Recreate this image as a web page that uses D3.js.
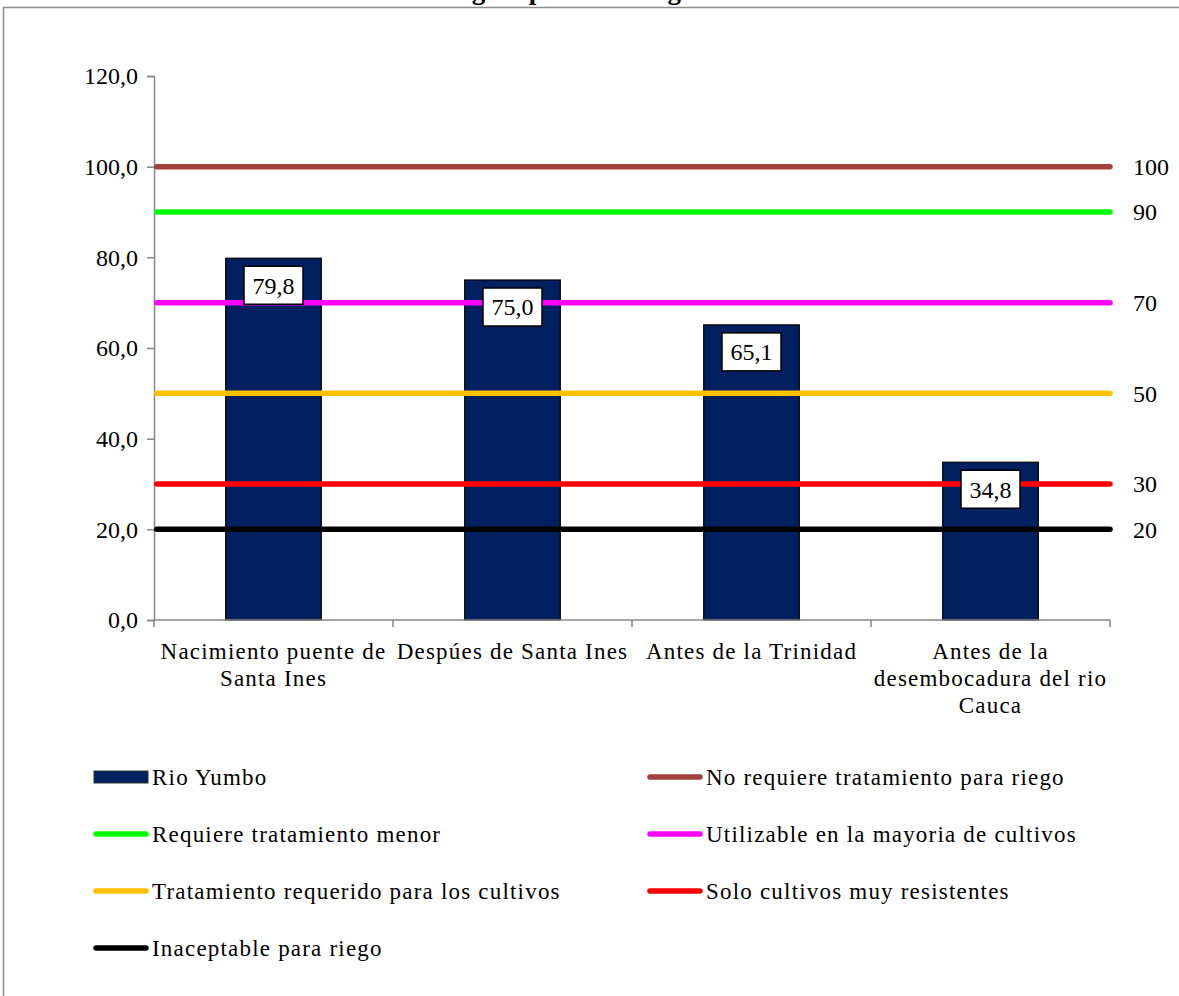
<!DOCTYPE html>
<html>
<head>
<meta charset="utf-8">
<script src="https://cdn.jsdelivr.net/npm/d3@7"></script>
<style>
  html, body { margin: 0; padding: 0; background: #fff; }
  svg { display: block; font-family: "Liberation Serif", "Times New Roman", serif; }
  text { font-family: "Liberation Serif", "Times New Roman", serif; fill: #000; }
</style>
</head>
<body>
<svg id="chart" width="1179" height="996"></svg>
<script>
// ---------- data ----------
const titleLines = ["Índice de calidad del", "agua para el riego"];
const categories = [
  "Nacimiento puente de\nSanta Ines",
  "Despúes de Santa Ines",
  "Antes de la Trinidad",
  "Antes de la\ndesembocadura del rio\nCauca"
];
const seriesName = "Rio Yumbo";
const values = [79.8, 75.0, 65.1, 34.8];
const refNames = [
  "No requiere tratamiento para riego",
  "Requiere tratamiento menor",
  "Utilizable en la mayoria de cultivos",
  "Tratamiento requerido para los cultivos",
  "Solo cultivos muy resistentes",
  "Inaceptable para riego"
];
const refValues = [100, 90, 70, 50, 30, 20];
const refColors = ["#A0413C", "#00FF00", "#FF00FF", "#FFC000", "#FF0000", "#000000"];
const yTicks = [0, 20, 40, 60, 80, 100, 120];
const barColor = "#002060";

// ---------- layout ----------
const FONT = '"Liberation Serif", "Times New Roman", serif';
const svg = d3.select("#chart");
const plot = { left: 154, right: 1110, top: 76, bottom: 620 };
const axisColor = "#868686";
const fontSize = 23;
const numSize = 24;
const ls = 1.2;

// outer chart border
svg.append("rect")
  .attr("x", 3.5).attr("y", 7.5)
  .attr("width", 1200).attr("height", 1100)
  .attr("fill", "none").attr("stroke", "#8c8c8c").attr("stroke-width", 1.5);

// title (mostly cut off at top, as in the reference)
const title = svg.append("text")
  .attr("x", 577).attr("y", -1 - 30 * (titleLines.length - 1))
  .attr("text-anchor", "middle")
  .attr("font-weight", "bold")
  .attr("font-size", 27)
  .attr("letter-spacing", 1.3)
  .attr("word-spacing", 3)
  .style("font-family", FONT);
titleLines.forEach((t, i) => {
  title.append("tspan").attr("x", 577).attr("dy", i === 0 ? 0 : 30).text(t);
});

const x = d3.scaleBand()
  .domain(categories)
  .range([plot.left, plot.right])
  .paddingInner(0.6)
  .paddingOuter(0.3);

const y = d3.scaleLinear().domain([0, 120]).range([plot.bottom, plot.top]);

const fmt = v => d3.format(".1f")(v).replace(".", ",");

// y axis
const yAxis = svg.append("g")
  .attr("transform", `translate(${plot.left},0)`)
  .call(d3.axisLeft(y).tickValues(yTicks).tickFormat(fmt).tickSize(7).tickPadding(9));
yAxis.attr("font-family", null).attr("font-size", null);
yAxis.select(".domain").attr("stroke", axisColor).attr("stroke-width", 1.5);
yAxis.selectAll(".tick line").attr("stroke", axisColor).attr("stroke-width", 1.5);
yAxis.selectAll(".tick text")
  .attr("font-size", numSize)
  .style("font-family", FONT)
  .attr("fill", "#000");

// bars
svg.append("g").selectAll("rect")
  .data(values)
  .join("rect")
  .attr("x", (d, i) => x(categories[i]))
  .attr("y", d => y(d))
  .attr("width", x.bandwidth())
  .attr("height", d => y(0) - y(d))
  .attr("fill", barColor)
  .attr("stroke", "#000")
  .attr("stroke-width", 1.2);

// x axis
const step = x.step();
const xAxisG = svg.append("g");
xAxisG.append("line")
  .attr("x1", plot.left).attr("x2", plot.right)
  .attr("y1", y(0)).attr("y2", y(0))
  .attr("stroke", axisColor).attr("stroke-width", 1.5);
xAxisG.selectAll("line.tick")
  .data(d3.range(categories.length + 1))
  .join("line")
  .attr("class", "tick")
  .attr("x1", i => plot.left + i * step)
  .attr("x2", i => plot.left + i * step)
  .attr("y1", y(0)).attr("y2", y(0) + 7)
  .attr("stroke", axisColor).attr("stroke-width", 1.5);

categories.forEach(c => {
  const lines = c.split("\n");
  const cx = x(c) + x.bandwidth() / 2;
  const t = svg.append("text")
    .attr("text-anchor", "middle")
    .attr("font-size", fontSize)
    .attr("letter-spacing", ls)
    .style("font-family", FONT)
    .attr("y", y(0) + 39);
  lines.forEach((l, i) => {
    t.append("tspan").attr("x", cx).attr("dy", i === 0 ? 0 : 27).text(l);
  });
});

// reference lines
svg.append("g").selectAll("line")
  .data(refValues)
  .join("line")
  .attr("x1", plot.left + 2.75)
  .attr("x2", plot.right)
  .attr("y1", d => y(d))
  .attr("y2", d => y(d))
  .attr("stroke", (d, i) => refColors[i])
  .attr("stroke-width", 5.5)
  .attr("stroke-linecap", "round");

// right-hand labels of reference lines
svg.append("g").selectAll("text")
  .data(refValues)
  .join("text")
  .attr("x", plot.right + 23)
  .attr("y", d => y(d))
  .attr("dy", "0.35em")
  .attr("font-size", numSize)
  .style("font-family", FONT)
  .text(d => d);

// data labels
const lblG = svg.append("g");
values.forEach((v, i) => {
  const cx = x(categories[i]) + x.bandwidth() / 2;
  const g = lblG.append("g");
  const t = g.append("text")
    .attr("x", cx)
    .attr("y", y(v) + 8 + 19)
    .attr("dy", "0.35em")
    .attr("text-anchor", "middle")
    .attr("font-size", numSize)
    .style("font-family", FONT)
    .text(fmt(v));
  const w = t.node().getComputedTextLength() + 17;
  g.insert("rect", "text")
    .attr("x", cx - w / 2)
    .attr("y", y(v) + 8)
    .attr("width", w)
    .attr("height", 38)
    .attr("fill", "#fff")
    .attr("stroke", "#000")
    .attr("stroke-width", 1.5);
});

// legend
const legendItems = [{ name: seriesName, type: "bar", color: barColor }]
  .concat(refNames.map((n, i) => ({ name: n, type: "line", color: refColors[i] })));
const colX = [93, 647];
const rowY0 = 777, rowStep = 57;
const leg = svg.append("g");
legendItems.forEach((it, i) => {
  const col = i % 2, row = Math.floor(i / 2);
  const lx = colX[col], ly = rowY0 + row * rowStep;
  if (it.type === "bar") {
    leg.append("rect")
      .attr("x", lx + 1).attr("y", ly - 6)
      .attr("width", 54).attr("height", 12)
      .attr("fill", it.color).attr("stroke", "#333").attr("stroke-width", 1);
  } else {
    leg.append("line")
      .attr("x1", lx + 3).attr("x2", lx + 53)
      .attr("y1", ly).attr("y2", ly)
      .attr("stroke", it.color).attr("stroke-width", 5.5)
      .attr("stroke-linecap", "round");
  }
  leg.append("text")
    .attr("x", lx + 59)
    .attr("y", ly)
    .attr("dy", "0.35em")
    .attr("font-size", fontSize)
    .attr("letter-spacing", ls)
    .style("font-family", FONT)
    .text(it.name);
});
</script>
</body>
</html>
